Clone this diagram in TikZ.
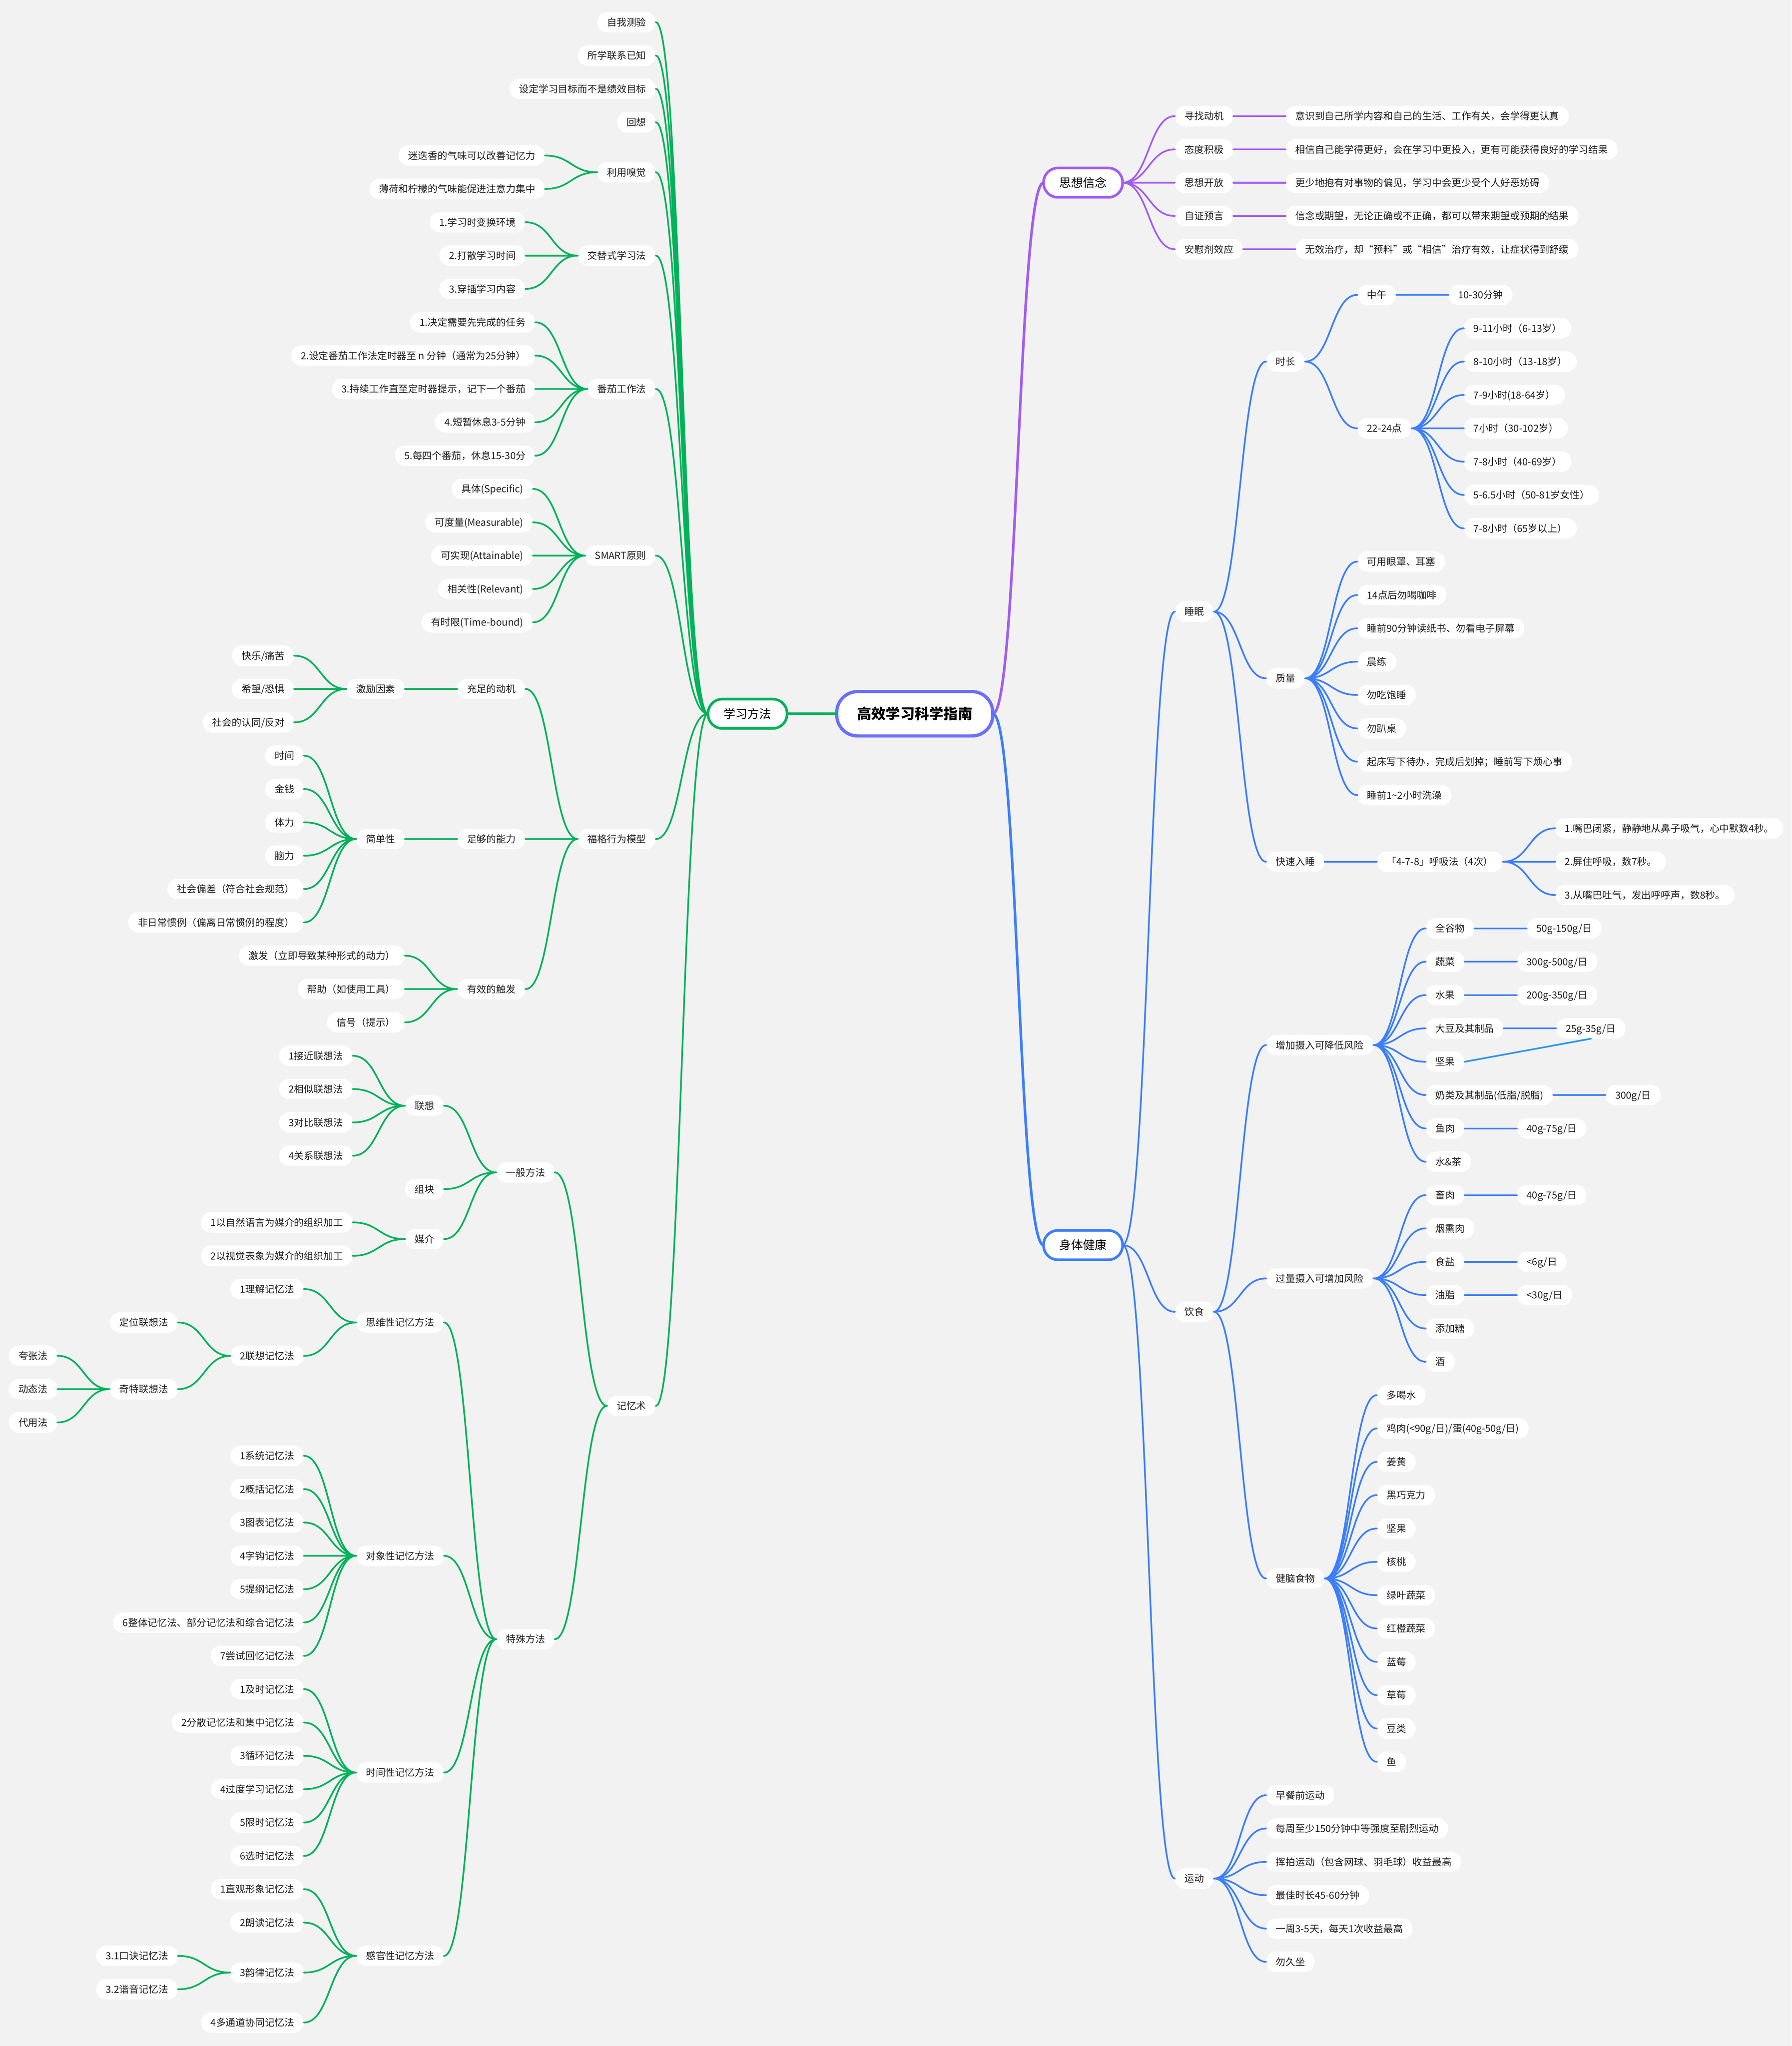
\documentclass[tikz,border=0pt]{standalone}
\usepackage{fontspec}
\newfontfamily\cjk{Noto Sans CJK SC}
\usetikzlibrary{calc}
\definecolor{bgc}{HTML}{F2F2F2}
\definecolor{grn}{HTML}{00B259}
\definecolor{pur}{HTML}{A35CF2}
\definecolor{blu}{HTML}{3B7EFF}
\definecolor{rootc}{HTML}{6B6FFF}
\definecolor{nutc}{HTML}{2F96EE}
\tikzset{
leaf/.style={fill=white,rounded corners=7.8mm,minimum height=15.7mm,inner xsep=7.4mm,inner ysep=0pt,text height=6.3mm,text depth=0.6mm,text=black!88,font=\cjk\fontsize{21.3pt}{25pt}\selectfont},
L/.style={leaf,anchor=east,xshift=-40mm},
R/.style={leaf,anchor=west,xshift=40mm},
topic/.style={fill=white,draw=#1,line width=2mm,outer sep=0pt,rounded corners=11mm,minimum height=22.5mm,inner xsep=12mm,inner ysep=0pt,text height=7.7mm,text depth=0.7mm,font=\cjk\fontsize{26pt}{30pt}\selectfont},
link/.style={line width=1.3mm,line cap=round,to path={let \p1=(\tikztostart),\p2=(\tikztotarget) in .. controls ({(\x1+\x2)/2},\y1) and ({(\x1+\x2)/2},\y2) .. (\tikztotarget)}}
}
\begin{document}
\begin{tikzpicture}[x=1mm,y=-1mm]
\fill[bgc](0,0) rectangle (1373,1568);
\node[fill=white,draw=rootc,line width=2.5mm,outer sep=0pt,rounded corners=16mm,minimum height=34mm,inner xsep=15.5mm,inner ysep=0pt,text height=9.3mm,text depth=0.9mm,font=\cjk\bfseries\fontsize{31.5pt}{36pt}\selectfont](root) at (701,547) {高效学习科学指南};
\node[topic=grn](xxff) at (572.85,547) {学习方法};
\node[topic=pur](sxxn) at (830,140) {思想信念};
\node[topic=blu](stjk) at (830,954.2) {身体健康};
\node[L](zwcy) at (xxff.west |- 0,17) {自我测验};
\node[L](sxlx) at (xxff.west |- 0,42.6) {所学联系已知};
\node[L](sdmb) at (xxff.west |- 0,68.1) {设定学习目标而不是绩效目标};
\node[L](huix) at (xxff.west |- 0,93.7) {回想};
\node[L](xj) at (xxff.west |- 0,132) {利用嗅觉};
\node[L](jt) at (xxff.west |- 0,195.9) {交替式学习法};
\node[L](fq) at (xxff.west |- 0,298.1) {番茄工作法};
\node[L](smart) at (xxff.west |- 0,425.8) {SMART原则};
\node[L](fg) at (xxff.west |- 0,643) {福格行为模型};
\node[L](jys) at (xxff.west |- 0,1077.4) {记忆术};
\node[L](xj1) at (xj.west |- 0,119.2) {迷迭香的气味可以改善记忆力};
\node[L](xj2) at (xj.west |- 0,144.8) {薄荷和柠檬的气味能促进注意力集中};
\node[L](jt1) at (jt.west |- 0,170.3) {1.学习时变换环境};
\node[L](jt2) at (jt.west |- 0,195.9) {2.打散学习时间};
\node[L](jt3) at (jt.west |- 0,221.4) {3.穿插学习内容};
\node[L](fq1) at (fq.west |- 0,247) {1.决定需要先完成的任务};
\node[L](fq2) at (fq.west |- 0,272.5) {2.设定番茄工作法定时器至 n 分钟（通常为25分钟）};
\node[L](fq3) at (fq.west |- 0,298.1) {3.持续工作直至定时器提示，记下一个番茄};
\node[L](fq4) at (fq.west |- 0,323.6) {4.短暂休息3-5分钟};
\node[L](fq5) at (fq.west |- 0,349.2) {5.每四个番茄，休息15-30分};
\node[L](st1) at (smart.west |- 0,374.7) {具体(Specific)};
\node[L](st2) at (smart.west |- 0,400.3) {可度量(Measurable)};
\node[L](st3) at (smart.west |- 0,425.8) {可实现(Attainable)};
\node[L](st4) at (smart.west |- 0,451.4) {相关性(Relevant)};
\node[L](st5) at (smart.west |- 0,476.9) {有时限(Time-bound)};
\node[L](dj) at (fg.west |- 0,528) {充足的动机};
\node[L](nl) at (fg.west |- 0,643) {足够的能力};
\node[L](cf) at (fg.west |- 0,758) {有效的触发};
\node[L](jl) at (dj.west) {激励因素};
\node[L](jl1) at (jl.west |- 0,502.5) {快乐/痛苦};
\node[L](jl2) at (jl.west |- 0,528) {希望/恐惧};
\node[L](jl3) at (jl.west |- 0,553.6) {社会的认同/反对};
\node[L](jd) at (nl.west) {简单性};
\node[L](jd1) at (jd.west |- 0,579.1) {时间};
\node[L](jd2) at (jd.west |- 0,604.7) {金钱};
\node[L](jd3) at (jd.west |- 0,630.2) {体力};
\node[L](jd4) at (jd.west |- 0,655.8) {脑力};
\node[L](jd5) at (jd.west |- 0,681.3) {社会偏差（符合社会规范）};
\node[L](jd6) at (jd.west |- 0,706.9) {非日常惯例（偏离日常惯例的程度）};
\node[L](cf1) at (cf.west |- 0,732.4) {激发（立即导致某种形式的动力）};
\node[L](cf2) at (cf.west |- 0,758) {帮助（如使用工具）};
\node[L](cf3) at (cf.west |- 0,783.5) {信号（提示）};
\node[L](yb) at (jys.west |- 0,898.5) {一般方法};
\node[L](ts) at (jys.west |- 0,1256.2) {特殊方法};
\node[L](lx) at (yb.west |- 0,847.4) {联想};
\node[L](zk) at (yb.west |- 0,911.3) {组块};
\node[L](mj) at (yb.west |- 0,949.6) {媒介};
\node[L](lx1) at (lx.west |- 0,809.1) {1接近联想法};
\node[L](lx2) at (lx.west |- 0,834.6) {2相似联想法};
\node[L](lx3) at (lx.west |- 0,860.2) {3对比联想法};
\node[L](lx4) at (lx.west |- 0,885.7) {4关系联想法};
\node[L](mj1) at (mj.west |- 0,936.8) {1以自然语言为媒介的组织加工};
\node[L](mj2) at (mj.west |- 0,962.4) {2以视觉表象为媒介的组织加工};
\node[L](sw) at (ts.west |- 0,1013.5) {思维性记忆方法};
\node[L](dx) at (ts.west |- 0,1192.3) {对象性记忆方法};
\node[L](sj) at (ts.west |- 0,1358.4) {时间性记忆方法};
\node[L](gg) at (ts.west |- 0,1498.9) {感官性记忆方法};
\node[L](sw1) at (sw.west |- 0,987.9) {1理解记忆法};
\node[L](sw2) at (sw.west |- 0,1039.1) {2联想记忆法};
\node[L](dw) at (sw2.west |- 0,1013.5) {定位联想法};
\node[L](qt) at (sw2.west |- 0,1064.6) {奇特联想法};
\node[L](qt1) at (qt.west |- 0,1039) {夸张法};
\node[L](qt2) at (qt.west |- 0,1064.6) {动态法};
\node[L](qt3) at (qt.west |- 0,1090.1) {代用法};
\node[L](dx1) at (dx.west |- 0,1115.7) {1系统记忆法};
\node[L](dx2) at (dx.west |- 0,1141.2) {2概括记忆法};
\node[L](dx3) at (dx.west |- 0,1166.8) {3图表记忆法};
\node[L](dx4) at (dx.west |- 0,1192.3) {4字钩记忆法};
\node[L](dx5) at (dx.west |- 0,1217.9) {5提纲记忆法};
\node[L](dx6) at (dx.west |- 0,1243.4) {6整体记忆法、部分记忆法和综合记忆法};
\node[L](dx7) at (dx.west |- 0,1269) {7尝试回忆记忆法};
\node[L](sj1) at (sj.west |- 0,1294.5) {1及时记忆法};
\node[L](sj2) at (sj.west |- 0,1320.1) {2分散记忆法和集中记忆法};
\node[L](sj3) at (sj.west |- 0,1345.6) {3循环记忆法};
\node[L](sj4) at (sj.west |- 0,1371.2) {4过度学习记忆法};
\node[L](sj5) at (sj.west |- 0,1396.7) {5限时记忆法};
\node[L](sj6) at (sj.west |- 0,1422.3) {6选时记忆法};
\node[L](gg1) at (gg.west |- 0,1447.8) {1直观形象记忆法};
\node[L](gg2) at (gg.west |- 0,1473.4) {2朗读记忆法};
\node[L](gg3) at (gg.west |- 0,1511.7) {3韵律记忆法};
\node[L](gg4) at (gg.west |- 0,1550) {4多通道协同记忆法};
\node[L](yl1) at (gg3.west |- 0,1498.9) {3.1口诀记忆法};
\node[L](yl2) at (gg3.west |- 0,1524.5) {3.2谐音记忆法};
\node[R](xz) at (sxxn.east |- 0,89) {寻找动机};
\node[R](td) at (sxxn.east |- 0,114.5) {态度积极};
\node[R](kf) at (sxxn.east |- 0,140) {思想开放};
\node[R](zz) at (sxxn.east |- 0,165.5) {自证预言};
\node[R](awj) at (sxxn.east |- 0,191) {安慰剂效应};
\node[R](xz1) at (xz.east) {意识到自己所学内容和自己的生活、工作有关，会学得更认真};
\node[R](td1) at (td.east) {相信自己能学得更好，会在学习中更投入，更有可能获得良好的学习结果};
\node[R](kf1) at (kf.east) {更少地抱有对事物的偏见，学习中会更少受个人好恶妨碍};
\node[R](zz1) at (zz.east) {信念或期望，无论正确或不正确，都可以带来期望或预期的结果};
\node[R](awj1) at (awj.east) {无效治疗，却“预料”或“相信”治疗有效，让症状得到舒缓};
\node[R](shm) at (stjk.east |- 0,468.75) {睡眠};
\node[R](ys) at (stjk.east |- 0,1005.3) {饮食};
\node[R](yd) at (stjk.east |- 0,1439.65) {运动};
\node[R](sc) at (shm.east |- 0,277.1) {时长};
\node[R](zl) at (shm.east |- 0,519.85) {质量};
\node[R](ks) at (shm.east |- 0,660.4) {快速入睡};
\node[R](zw) at (sc.east |- 0,226) {中午};
\node[R](zw1) at (zw.east) {10-30分钟};
\node[R](ye) at (sc.east |- 0,328.25) {22-24点};
\node[R](ye1) at (ye.east |- 0,251.6) {9-11小时（6-13岁）};
\node[R](ye2) at (ye.east |- 0,277.1) {8-10小时（13-18岁）};
\node[R](ye3) at (ye.east |- 0,302.7) {7-9小时(18-64岁）};
\node[R](ye4) at (ye.east |- 0,328.2) {7小时（30-102岁）};
\node[R](ye5) at (ye.east |- 0,353.8) {7-8小时（40-69岁）};
\node[R](ye6) at (ye.east |- 0,379.3) {5-6.5小时（50-81岁女性）};
\node[R](ye7) at (ye.east |- 0,404.9) {7-8小时（65岁以上）};
\node[R](zl1) at (zl.east |- 0,430.4) {可用眼罩、耳塞};
\node[R](zl2) at (zl.east |- 0,456) {14点后勿喝咖啡};
\node[R](zl3) at (zl.east |- 0,481.5) {睡前90分钟读纸书、勿看电子屏幕};
\node[R](zl4) at (zl.east |- 0,507.1) {晨练};
\node[R](zl5) at (zl.east |- 0,532.6) {勿吃饱睡};
\node[R](zl6) at (zl.east |- 0,558.2) {勿趴桌};
\node[R](zl7) at (zl.east |- 0,583.7) {起床写下待办，完成后划掉；睡前写下烦心事};
\node[R](zl8) at (zl.east |- 0,609.3) {睡前1\textasciitilde{}2小时洗澡};
\node[R](hxf) at (ks.east) {「4-7-8」呼吸法（4次）};
\node[R](bf1) at (hxf.east |- 0,634.8) {1.嘴巴闭紧，静静地从鼻子吸气，心中默数4秒。};
\node[R](bf2) at (hxf.east |- 0,660.4) {2.屏住呼吸，数7秒。};
\node[R](bf3) at (hxf.east |- 0,685.9) {3.从嘴巴吐气，发出呼呼声，数8秒。};
\node[R](zj) at (ys.east |- 0,800.9) {增加摄入可降低风险};
\node[R](gl) at (ys.east |- 0,979.75) {过量摄入可增加风险};
\node[R](jn) at (ys.east |- 0,1209.7) {健脑食物};
\node[R](qgw) at (zj.east |- 0,711.5) {全谷物};
\node[R](shc) at (zj.east |- 0,737) {蔬菜};
\node[R](sg) at (zj.east |- 0,762.6) {水果};
\node[R](dd) at (zj.east |- 0,788.1) {大豆及其制品};
\node[R](jg) at (zj.east |- 0,813.7) {坚果};
\node[R](nai) at (zj.east |- 0,839.2) {奶类及其制品(低脂/脱脂)};
\node[R](yr) at (zj.east |- 0,864.8) {鱼肉};
\node[R](shui) at (zj.east |- 0,890.3) {水\&茶};
\node[R](qgw1) at (qgw.east) {50g-150g/日};
\node[R](shc1) at (shc.east) {300g-500g/日};
\node[R](sg1) at (sg.east) {200g-350g/日};
\node[R](dd1) at (dd.east) {25g-35g/日};
\node[R](nai1) at (nai.east) {300g/日};
\node[R](yr1) at (yr.east) {40g-75g/日};
\node[R](cr) at (gl.east |- 0,915.9) {畜肉};
\node[R](yx) at (gl.east |- 0,941.4) {烟熏肉};
\node[R](syan) at (gl.east |- 0,967) {食盐};
\node[R](yz) at (gl.east |- 0,992.5) {油脂};
\node[R](tjt) at (gl.east |- 0,1018.1) {添加糖};
\node[R](jiu) at (gl.east |- 0,1043.6) {酒};
\node[R](cr1) at (cr.east) {40g-75g/日};
\node[R](syan1) at (syan.east) {<6g/日};
\node[R](yz1) at (yz.east) {<30g/日};
\node[R](jn1) at (jn.east |- 0,1069.2) {多喝水};
\node[R](jn2) at (jn.east |- 0,1094.7) {鸡肉(<90g/日)/蛋(40g-50g/日)};
\node[R](jn3) at (jn.east |- 0,1120.3) {姜黄};
\node[R](jn4) at (jn.east |- 0,1145.8) {黑巧克力};
\node[R](jn5) at (jn.east |- 0,1171.4) {坚果};
\node[R](jn6) at (jn.east |- 0,1196.9) {核桃};
\node[R](jn7) at (jn.east |- 0,1222.5) {绿叶蔬菜};
\node[R](jn8) at (jn.east |- 0,1248) {红橙蔬菜};
\node[R](jn9) at (jn.east |- 0,1273.6) {蓝莓};
\node[R](jn10) at (jn.east |- 0,1299.1) {草莓};
\node[R](jn11) at (jn.east |- 0,1324.7) {豆类};
\node[R](jn12) at (jn.east |- 0,1350.2) {鱼};
\node[R](yd1) at (yd.east |- 0,1375.8) {早餐前运动};
\node[R](yd2) at (yd.east |- 0,1401.3) {每周至少150分钟中等强度至剧烈运动};
\node[R](yd3) at (yd.east |- 0,1426.9) {挥拍运动（包含网球、羽毛球）收益最高};
\node[R](yd4) at (yd.east |- 0,1452.4) {最佳时长45-60分钟};
\node[R](yd5) at (yd.east |- 0,1478) {一周3-5天，每天1次收益最高};
\node[R](yd6) at (yd.east |- 0,1503.5) {勿久坐};
\draw[link,grn,line width=2mm](root.west) to (xxff.east);
\draw[link,pur,line width=2mm](root.east) to (sxxn.west);
\draw[link,blu,line width=2mm](root.east) to (stjk.west);
\draw[link,grn](xxff.west) to (zwcy.east) (xxff.west) to (sxlx.east) (xxff.west) to (sdmb.east) (xxff.west) to (huix.east) (xxff.west) to (xj.east) (xxff.west) to (jt.east) (xxff.west) to (fq.east) (xxff.west) to (smart.east) (xxff.west) to (fg.east) (xxff.west) to (jys.east);
\draw[link,grn](xj.west) to (xj1.east) (xj.west) to (xj2.east);
\draw[link,grn](jt.west) to (jt1.east) (jt.west) to (jt2.east) (jt.west) to (jt3.east);
\draw[link,grn](fq.west) to (fq1.east) (fq.west) to (fq2.east) (fq.west) to (fq3.east) (fq.west) to (fq4.east) (fq.west) to (fq5.east);
\draw[link,grn](smart.west) to (st1.east) (smart.west) to (st2.east) (smart.west) to (st3.east) (smart.west) to (st4.east) (smart.west) to (st5.east);
\draw[link,grn](fg.west) to (dj.east) (fg.west) to (nl.east) (fg.west) to (cf.east);
\draw[link,grn](dj.west) to (jl.east) (jl.west) to (jl1.east) (jl.west) to (jl2.east) (jl.west) to (jl3.east);
\draw[link,grn](nl.west) to (jd.east) (jd.west) to (jd1.east) (jd.west) to (jd2.east) (jd.west) to (jd3.east) (jd.west) to (jd4.east) (jd.west) to (jd5.east) (jd.west) to (jd6.east);
\draw[link,grn](cf.west) to (cf1.east) (cf.west) to (cf2.east) (cf.west) to (cf3.east);
\draw[link,grn](jys.west) to (yb.east) (jys.west) to (ts.east);
\draw[link,grn](yb.west) to (lx.east) (yb.west) to (zk.east) (yb.west) to (mj.east);
\draw[link,grn](lx.west) to (lx1.east) (lx.west) to (lx2.east) (lx.west) to (lx3.east) (lx.west) to (lx4.east);
\draw[link,grn](mj.west) to (mj1.east) (mj.west) to (mj2.east);
\draw[link,grn](ts.west) to (sw.east) (ts.west) to (dx.east) (ts.west) to (sj.east) (ts.west) to (gg.east);
\draw[link,grn](sw.west) to (sw1.east) (sw.west) to (sw2.east);
\draw[link,grn](sw2.west) to (dw.east) (sw2.west) to (qt.east);
\draw[link,grn](qt.west) to (qt1.east) (qt.west) to (qt2.east) (qt.west) to (qt3.east);
\draw[link,grn](dx.west) to (dx1.east) (dx.west) to (dx2.east) (dx.west) to (dx3.east) (dx.west) to (dx4.east) (dx.west) to (dx5.east) (dx.west) to (dx6.east) (dx.west) to (dx7.east);
\draw[link,grn](sj.west) to (sj1.east) (sj.west) to (sj2.east) (sj.west) to (sj3.east) (sj.west) to (sj4.east) (sj.west) to (sj5.east) (sj.west) to (sj6.east);
\draw[link,grn](gg.west) to (gg1.east) (gg.west) to (gg2.east) (gg.west) to (gg3.east) (gg.west) to (gg4.east);
\draw[link,grn](gg3.west) to (yl1.east) (gg3.west) to (yl2.east);
\draw[link,pur](sxxn.east) to (xz.west) (sxxn.east) to (td.west) (sxxn.east) to (kf.west) (sxxn.east) to (zz.west) (sxxn.east) to (awj.west);
\draw[link,pur](xz.east) to (xz1.west) (td.east) to (td1.west) (kf.east) to (kf1.west) (zz.east) to (zz1.west) (awj.east) to (awj1.west);
\draw[link,blu](stjk.east) to (shm.west) (stjk.east) to (ys.west) (stjk.east) to (yd.west);
\draw[link,blu](shm.east) to (sc.west) (shm.east) to (zl.west) (shm.east) to (ks.west);
\draw[link,blu](sc.east) to (zw.west) (sc.east) to (ye.west) (zw.east) to (zw1.west);
\draw[link,blu](ye.east) to (ye1.west) (ye.east) to (ye2.west) (ye.east) to (ye3.west) (ye.east) to (ye4.west) (ye.east) to (ye5.west) (ye.east) to (ye6.west) (ye.east) to (ye7.west);
\draw[link,blu](zl.east) to (zl1.west) (zl.east) to (zl2.west) (zl.east) to (zl3.west) (zl.east) to (zl4.west) (zl.east) to (zl5.west) (zl.east) to (zl6.west) (zl.east) to (zl7.west) (zl.east) to (zl8.west);
\draw[link,blu](ks.east) to (hxf.west) (hxf.east) to (bf1.west) (hxf.east) to (bf2.west) (hxf.east) to (bf3.west);
\draw[link,blu](ys.east) to (zj.west) (ys.east) to (gl.west) (ys.east) to (jn.west);
\draw[link,blu](zj.east) to (qgw.west) (zj.east) to (shc.west) (zj.east) to (sg.west) (zj.east) to (dd.west) (zj.east) to (jg.west) (zj.east) to (nai.west) (zj.east) to (yr.west) (zj.east) to (shui.west);
\draw[link,blu](qgw.east) to (qgw1.west) (shc.east) to (shc1.west) (sg.east) to (sg1.west) (dd.east) to (dd1.west) (nai.east) to (nai1.west) (yr.east) to (yr1.west);
\draw[nutc,line width=1.3mm,line cap=round](jg.east) -- (dd1.south);
\draw[link,blu](gl.east) to (cr.west) (gl.east) to (yx.west) (gl.east) to (syan.west) (gl.east) to (yz.west) (gl.east) to (tjt.west) (gl.east) to (jiu.west);
\draw[link,blu](cr.east) to (cr1.west) (syan.east) to (syan1.west) (yz.east) to (yz1.west);
\draw[link,blu](jn.east) to (jn1.west) (jn.east) to (jn2.west) (jn.east) to (jn3.west) (jn.east) to (jn4.west) (jn.east) to (jn5.west) (jn.east) to (jn6.west) (jn.east) to (jn7.west) (jn.east) to (jn8.west) (jn.east) to (jn9.west) (jn.east) to (jn10.west) (jn.east) to (jn11.west) (jn.east) to (jn12.west);
\draw[link,blu](yd.east) to (yd1.west) (yd.east) to (yd2.west) (yd.east) to (yd3.west) (yd.east) to (yd4.west) (yd.east) to (yd5.west) (yd.east) to (yd6.west);
\end{tikzpicture}
\end{document}
